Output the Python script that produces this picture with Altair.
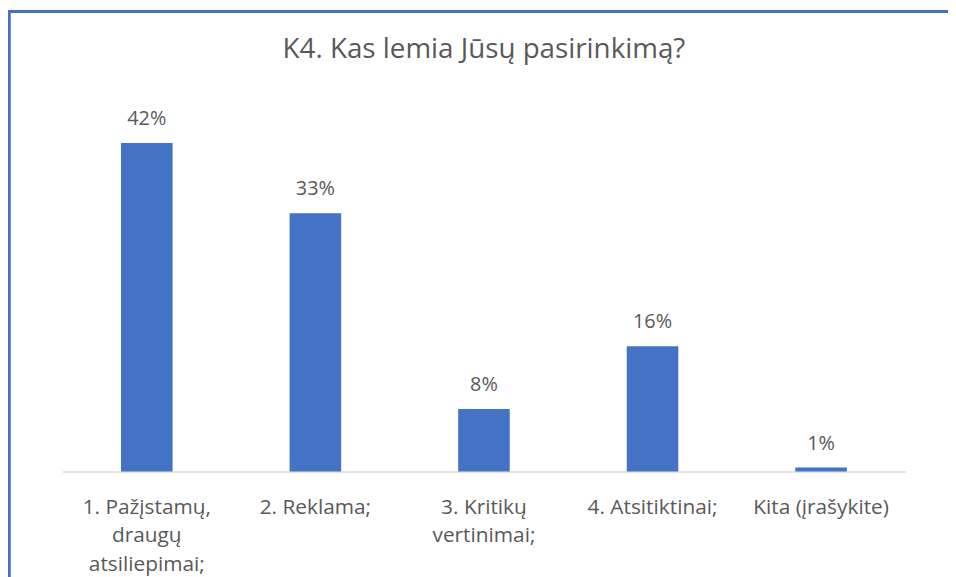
import altair as alt
import pandas as pd

categories = [
    "1. Pažįstamų,\ndraugų\natsiliepimai;",
    "2. Reklama;",
    "3. Kritikų\nvertinimai;",
    "4. Atsitiktinai;",
    "Kita (įrašykite)",
]
values = [42, 33, 8, 16, 0.5]
value_labels = ["42%", "33%", "8%", "16%", "1%"]

df = pd.DataFrame({"cat": categories, "val": values, "lab": value_labels})

W, H = 850, 355
FONT = "Open Sans"
TXT = "#595959"

x_enc = alt.X(
    "cat:N",
    sort=None,
    title=None,
    scale=alt.Scale(paddingInner=0.694, paddingOuter=0.347),
    axis=alt.Axis(
        labelAngle=0,
        labelExpr="split(datum.label, '\\n')",
        labelFont=FONT,
        labelFontSize=21,
        labelColor=TXT,
        labelLineHeight=29,
        labelPadding=25,
        labelBaseline="top",
        ticks=False,
        domainColor="#D9D9D9",
        domainWidth=1.5,
        grid=False,
        labelLimit=300,
    ),
)
y_enc = alt.Y("val:Q", scale=alt.Scale(domain=[0, 45]), axis=None)

bars = alt.Chart(df).mark_bar(color="#4472C4").encode(x=x_enc, y=y_enc)
texts = alt.Chart(df).mark_text(
    font=FONT, fontSize=20, color=TXT, dy=-18, baseline="alphabetic"
).encode(x=x_enc, y=y_enc, text="lab:N")

border = alt.Chart(df).mark_rect(
    fill="white", fillOpacity=0, stroke="#4472C4", strokeWidth=2.5
).encode(
    x=alt.value(-54), x2=alt.value(W + 200), y=alt.value(-109), y2=alt.value(H + 300)
)

chart = (
    alt.layer(border, bars, texts)
    .properties(
        width=W,
        height=H,
        title=alt.TitleParams(
            "K4. Kas lemia Jūsų pasirinkimą?",
            font=FONT,
            fontSize=28,
            fontWeight="normal",
            color=TXT,
            anchor="middle",
            frame="group",
            baseline="alphabetic",
            offset=-76,
        ),
        autosize=alt.AutoSizeParams(type="none"),
        padding={"left": 55, "top": 110, "right": 43, "bottom": 104},
    )
    .configure(background="white")
    .configure_view(strokeWidth=0, stroke="transparent")
)

chart.save("out.html", embed_options={"renderer": "svg", "actions": False})
